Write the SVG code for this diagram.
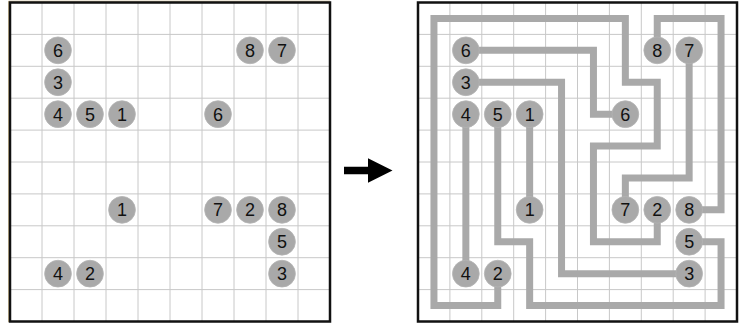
<svg xmlns="http://www.w3.org/2000/svg" width="742" height="323" viewBox="0 0 742 323">
<style>
.bg{fill:#ffffff}
.grid{stroke:#c8c8c8;stroke-width:1;fill:none}
.frame{fill:none;stroke:#111111;stroke-width:2.5}
.link{fill:none;stroke:#a9a9a9;stroke-width:7;stroke-linejoin:miter;stroke-linecap:butt}
.dot{fill:#a9a9a9;stroke:#b4b4b4;stroke-width:0.8}
.num{font-family:"Liberation Sans",Arial,sans-serif;font-size:18px;fill:#111111;text-anchor:middle}
</style>
<rect x="0" y="0" width="742" height="323" class="bg"/>
<!-- left panel grid -->
<g id="left-grid">
<path class="grid" d="M42,2.5V321.5M74,2.5V321.5M106,2.5V321.5M138,2.5V321.5M170,2.5V321.5M202,2.5V321.5M234,2.5V321.5M266,2.5V321.5M298,2.5V321.5M10,34.4H330M10,66.3H330M10,98.2H330M10,130.1H330M10,162H330M10,193.9H330M10,225.8H330M10,257.7H330M10,289.6H330"/>
<path d="M8.6,322V1.2H330" fill="none" stroke="#cbb98f" stroke-width="1"/>
<rect class="frame" x="10" y="2.5" width="320" height="319"/>
</g>
<!-- right panel grid -->
<g id="right-grid">
<path class="grid" d="M449.9,2.5V321.5M481.8,2.5V321.5M513.7,2.5V321.5M545.6,2.5V321.5M577.5,2.5V321.5M609.4,2.5V321.5M641.3,2.5V321.5M673.2,2.5V321.5M705.1,2.5V321.5M418,34.4H737M418,66.3H737M418,98.2H737M418,130.1H737M418,162H737M418,193.9H737M418,225.8H737M418,257.7H737M418,289.6H737"/>
<rect class="frame" x="418" y="2.5" width="319" height="319"/>
</g>
<!-- arrow -->
<g id="arrow">
<polygon points="344,166.7 368,166.7 368,158.3 392.5,170.5 368,182.7 368,174.3 344,174.3" fill="#000000"/>
</g>
<!-- connectors (solution paths) -->
<g id="connectors">
<path class="link" d="M465.85,50.35H593.45V114.15H625.35"/>
<path class="link" d="M465.85,82.25H561.55V273.65H689.15"/>
<path class="link" d="M465.85,114.15V273.65"/>
<path class="link" d="M497.75,114.15V241.75H529.65V305.55H721.05V241.75H689.15"/>
<path class="link" d="M529.65,114.15V209.85"/>
<path class="link" d="M497.75,273.65V305.55H433.95V18.45H625.35V82.25H657.25V146.05H593.45V241.75H657.25V209.85"/>
<path class="link" d="M689.15,50.35V177.95H625.35V209.85"/>
<path class="link" d="M657.25,50.35V18.45H721.05V209.85H689.15"/>
</g>
<!-- left panel nodes -->
<g id="L-6a"><circle class="dot" cx="58" cy="50.35" r="13.4"/><text class="num" x="58" y="56.85">6</text></g>
<g id="L-8a"><circle class="dot" cx="250" cy="50.35" r="13.4"/><text class="num" x="250" y="56.85">8</text></g>
<g id="L-7a"><circle class="dot" cx="282" cy="50.35" r="13.4"/><text class="num" x="282" y="56.85">7</text></g>
<g id="L-3a"><circle class="dot" cx="58" cy="82.25" r="13.4"/><text class="num" x="58" y="88.75">3</text></g>
<g id="L-4a"><circle class="dot" cx="58" cy="114.15" r="13.4"/><text class="num" x="58" y="120.65">4</text></g>
<g id="L-5a"><circle class="dot" cx="90" cy="114.15" r="13.4"/><text class="num" x="90" y="120.65">5</text></g>
<g id="L-1a"><circle class="dot" cx="122" cy="114.15" r="13.4"/><text class="num" x="122" y="120.65">1</text></g>
<g id="L-6b"><circle class="dot" cx="218" cy="114.15" r="13.4"/><text class="num" x="218" y="120.65">6</text></g>
<g id="L-1b"><circle class="dot" cx="122" cy="209.85" r="13.4"/><text class="num" x="122" y="216.35">1</text></g>
<g id="L-7b"><circle class="dot" cx="218" cy="209.85" r="13.4"/><text class="num" x="218" y="216.35">7</text></g>
<g id="L-2a"><circle class="dot" cx="250" cy="209.85" r="13.4"/><text class="num" x="250" y="216.35">2</text></g>
<g id="L-8b"><circle class="dot" cx="282" cy="209.85" r="13.4"/><text class="num" x="282" y="216.35">8</text></g>
<g id="L-5b"><circle class="dot" cx="282" cy="241.75" r="13.4"/><text class="num" x="282" y="248.25">5</text></g>
<g id="L-4b"><circle class="dot" cx="58" cy="273.65" r="13.4"/><text class="num" x="58" y="280.15">4</text></g>
<g id="L-2b"><circle class="dot" cx="90" cy="273.65" r="13.4"/><text class="num" x="90" y="280.15">2</text></g>
<g id="L-3b"><circle class="dot" cx="282" cy="273.65" r="13.4"/><text class="num" x="282" y="280.15">3</text></g>
<!-- right panel nodes -->
<g id="R-6a"><circle class="dot" cx="465.85" cy="50.35" r="13.4"/><text class="num" x="465.85" y="56.85">6</text></g>
<g id="R-8a"><circle class="dot" cx="657.25" cy="50.35" r="13.4"/><text class="num" x="657.25" y="56.85">8</text></g>
<g id="R-7a"><circle class="dot" cx="689.15" cy="50.35" r="13.4"/><text class="num" x="689.15" y="56.85">7</text></g>
<g id="R-3a"><circle class="dot" cx="465.85" cy="82.25" r="13.4"/><text class="num" x="465.85" y="88.75">3</text></g>
<g id="R-4a"><circle class="dot" cx="465.85" cy="114.15" r="13.4"/><text class="num" x="465.85" y="120.65">4</text></g>
<g id="R-5a"><circle class="dot" cx="497.75" cy="114.15" r="13.4"/><text class="num" x="497.75" y="120.65">5</text></g>
<g id="R-1a"><circle class="dot" cx="529.65" cy="114.15" r="13.4"/><text class="num" x="529.65" y="120.65">1</text></g>
<g id="R-6b"><circle class="dot" cx="625.35" cy="114.15" r="13.4"/><text class="num" x="625.35" y="120.65">6</text></g>
<g id="R-1b"><circle class="dot" cx="529.65" cy="209.85" r="13.4"/><text class="num" x="529.65" y="216.35">1</text></g>
<g id="R-7b"><circle class="dot" cx="625.35" cy="209.85" r="13.4"/><text class="num" x="625.35" y="216.35">7</text></g>
<g id="R-2a"><circle class="dot" cx="657.25" cy="209.85" r="13.4"/><text class="num" x="657.25" y="216.35">2</text></g>
<g id="R-8b"><circle class="dot" cx="689.15" cy="209.85" r="13.4"/><text class="num" x="689.15" y="216.35">8</text></g>
<g id="R-5b"><circle class="dot" cx="689.15" cy="241.75" r="13.4"/><text class="num" x="689.15" y="248.25">5</text></g>
<g id="R-4b"><circle class="dot" cx="465.85" cy="273.65" r="13.4"/><text class="num" x="465.85" y="280.15">4</text></g>
<g id="R-2b"><circle class="dot" cx="497.75" cy="273.65" r="13.4"/><text class="num" x="497.75" y="280.15">2</text></g>
<g id="R-3b"><circle class="dot" cx="689.15" cy="273.65" r="13.4"/><text class="num" x="689.15" y="280.15">3</text></g>
</svg>
